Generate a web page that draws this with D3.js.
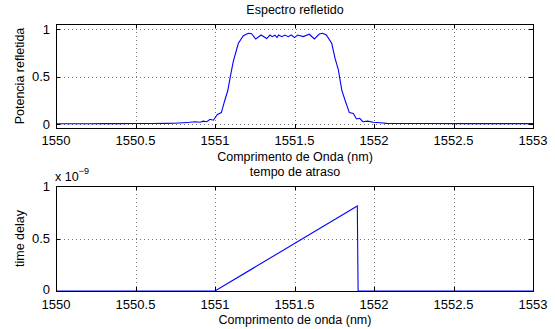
<!DOCTYPE html>
<html>
<head>
<meta charset="utf-8" />
<style>
    body { margin: 0; background: #ffffff; }
    svg { font-family: "Liberation Sans", Arial, sans-serif; }
    .grid line { stroke: #555; stroke-width: 0.8; stroke-dasharray: 1,3; shape-rendering: crispEdges; }
    .frame { fill: none; stroke: #000; stroke-width: 1; shape-rendering: crispEdges; }
    .tick-mark { stroke: #000; stroke-width: 1; shape-rendering: crispEdges; }
    .lbl { font-size: 12.5px; fill: #000; }
    .tl { font-size: 13px; fill: #000; }
</style>
</head>
<body>
<svg id="chart" width="555" height="329"></svg>
<script src="https://d3js.org/d3.v7.min.js"></script>
<script>
// reflected spectrum
var specWl = [1550.00, 1550.10, 1550.20, 1550.30, 1550.40, 1550.50, 1550.60, 1550.70, 1550.74, 1550.80,
    1550.84, 1550.874, 1550.906, 1550.926, 1550.948, 1550.969, 1550.99, 1551.015, 1551.04, 1551.06,
    1551.08, 1551.10, 1551.115, 1551.147, 1551.178, 1551.21, 1551.23, 1551.256, 1551.29, 1551.325,
    1551.346, 1551.36, 1551.377, 1551.39, 1551.40, 1551.42, 1551.44, 1551.46, 1551.48, 1551.50,
    1551.52, 1551.555, 1551.593, 1551.625, 1551.656, 1551.677, 1551.70, 1551.734, 1551.755, 1551.776,
    1551.797, 1551.818, 1551.845, 1551.87, 1551.89, 1551.91, 1551.93, 1551.96, 1551.996, 1552.04,
    1552.08, 1552.30, 1552.60, 1553.00];
var specPow = [0.003, 0.003, 0.003, 0.004, 0.004, 0.005, 0.006, 0.007, 0.008, 0.014,
    0.018, 0.024, 0.018, 0.030, 0.024, 0.050, 0.040, 0.100, 0.120, 0.240,
    0.350, 0.530, 0.660, 0.850, 0.930, 0.955, 0.950, 0.895, 0.937, 0.900,
    0.937, 0.920, 0.935, 0.910, 0.937, 0.920, 0.937, 0.920, 0.937, 0.910,
    0.937, 0.920, 0.945, 0.895, 0.947, 0.955, 0.937, 0.850, 0.690, 0.570,
    0.360, 0.250, 0.120, 0.110, 0.053, 0.060, 0.024, 0.030, 0.018, 0.014,
    0.007, 0.005, 0.004, 0.004];

// time delay
var delayWl = [1550.00, 1551.00, 1551.895, 1551.90, 1553.00];
var delayVal = [0, 0, 0.81e-9, 0, 0];

// ticks
var xTicks = [1550, 1550.5, 1551, 1551.5, 1552, 1552.5, 1553];
var yTicksTop = [0, 0.5, 1];
var yTicksBottom = [0, 0.5e-9, 1e-9];

var svg = d3.select("#chart");

function drawPanel(p) {
    var x = d3.scaleLinear().domain([1550, 1553]).range([56, 533]);
    var y = d3.scaleLinear().domain(p.yDomain).range([p.bottom, p.top]);
    var g = svg.append("g");

    // dotted grid
    var grid = g.append("g").attr("class", "grid");
    grid.selectAll(".gx").data(xTicks.slice(1, -1)).enter().append("line")
        .attr("x1", function(d) { return Math.round(x(d)) + 0.5; })
        .attr("x2", function(d) { return Math.round(x(d)) + 0.5; })
        .attr("y1", p.top).attr("y2", p.bottom);
    grid.selectAll(".gy").data(p.yTicks).enter().append("line")
        .attr("y1", function(d) { return Math.round(y(d)) + 0.5; })
        .attr("y2", function(d) { return Math.round(y(d)) + 0.5; })
        .attr("x1", 56).attr("x2", 533);

    // data line
    var pts = p.xs.map(function(d, i) { return [d, p.ys[i]]; });
    g.append("path")
        .datum(pts)
        .attr("fill", "none")
        .attr("stroke", "#0000ff")
        .attr("stroke-width", 1.1)
        .attr("d", d3.line().x(function(d) { return x(d[0]); }).y(function(d) { return y(d[1]); }));

    // inward tick marks on all four sides
    xTicks.forEach(function(t) {
        var px = Math.round(x(t)) + 0.5;
        g.append("line").attr("class", "tick-mark").attr("x1", px).attr("x2", px)
            .attr("y1", p.bottom).attr("y2", p.bottom - 4);
        g.append("line").attr("class", "tick-mark").attr("x1", px).attr("x2", px)
            .attr("y1", p.top).attr("y2", p.top + 4);
    });
    p.yTicks.forEach(function(t) {
        var py = Math.round(y(t)) + 0.5;
        g.append("line").attr("class", "tick-mark").attr("x1", 56).attr("x2", 60)
            .attr("y1", py).attr("y2", py);
        g.append("line").attr("class", "tick-mark").attr("x1", 533).attr("x2", 529)
            .attr("y1", py).attr("y2", py);
    });

    g.append("rect").attr("class", "frame")
        .attr("x", 56.5).attr("y", p.top + 0.5)
        .attr("width", 533 - 56).attr("height", p.bottom - p.top);

    // tick labels
    g.selectAll(".xl").data(xTicks).enter().append("text")
        .attr("class", "tl")
        .attr("x", function(d) { return x(d); })
        .attr("y", p.bottom + p.xLabelGap)
        .attr("text-anchor", "middle")
        .text(function(d) { return d; });
    g.selectAll(".yl").data(p.yTicks).enter().append("text")
        .attr("class", "tl")
        .attr("x", 50)
        .attr("y", function(d, i) { return y(d) + 4.5 - (i === 0 ? p.zeroLift : 0); })
        .attr("text-anchor", "end")
        .text(p.yFormat);

    // titles
    g.append("text").attr("class", "lbl").attr("x", 295).attr("y", p.top - 10)
        .attr("text-anchor", "middle").text(p.title);
    g.append("text").attr("class", "lbl").attr("x", 295).attr("y", p.bottom + 33)
        .attr("text-anchor", "middle").text(p.xLabel);
    g.append("text").attr("class", "lbl")
        .attr("transform", "translate(24," + (p.top + p.bottom) / 2 + ") rotate(-90)")
        .attr("text-anchor", "middle").text(p.yLabel);
    return g;
}

drawPanel({
    top: 24, bottom: 128,
    yDomain: [-0.042, 1.053],
    yTicks: yTicksTop,
    yFormat: function(d) { return d; },
    xLabelGap: 17, zeroLift: 0,
    xs: specWl, ys: specPow,
    title: "Espectro refletido",
    xLabel: "Comprimento de Onda (nm)",
    yLabel: "Potencia refletida"
});

var g2 = drawPanel({
    top: 186, bottom: 291,
    yDomain: [0, 1e-9],
    yTicks: yTicksBottom,
    yFormat: function(d) { return d * 1e9; },
    xLabelGap: 18, zeroLift: 1.5,
    xs: delayWl, ys: delayVal,
    title: "tempo de atraso",
    xLabel: "Comprimento de onda (nm)",
    yLabel: "time delay"
});

// exponent label
var ex = g2.append("text").attr("class", "lbl").attr("x", 55).attr("y", 181);
ex.append("tspan").text("x 10");
ex.append("tspan").attr("dy", -7).attr("font-size", "9px").text("\u22129");
</script>
</body>
</html>
